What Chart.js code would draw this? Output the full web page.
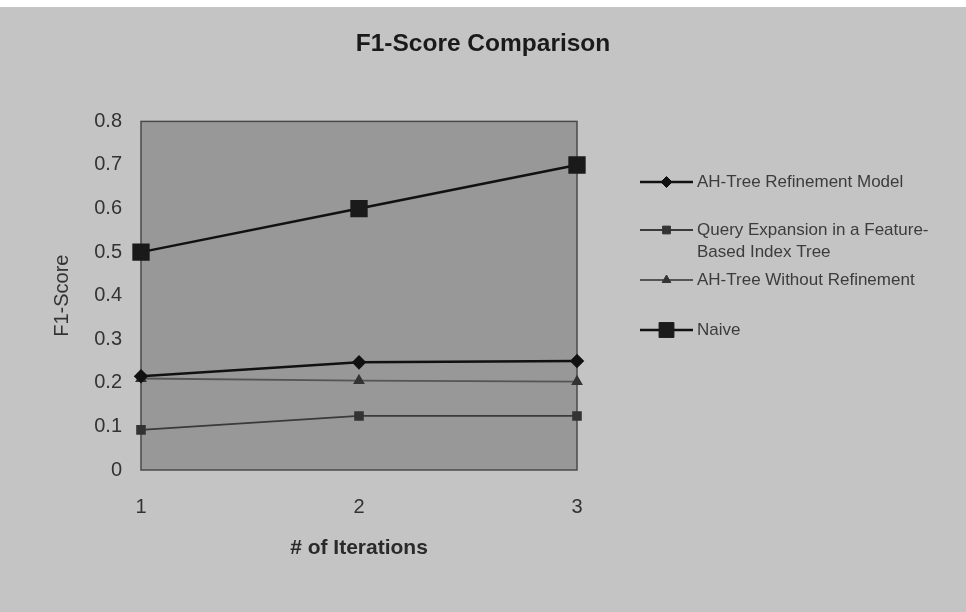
<!DOCTYPE html>
<html>
<head>
<meta charset="utf-8">
<script src="https://cdn.jsdelivr.net/npm/chart.js@4.4.1/dist/chart.umd.min.js"></script>
<style>
  html, body { margin: 0; padding: 0; background: #ffffff; }
  #wrap { width: 966px; height: 612px; }
</style>
</head>
<body>
<div id="wrap"><canvas id="chart" width="966" height="612"></canvas></div>
<script>
// Iterations on the x axis
const iterations = ['1', '2', '3'];

// F1-score per iteration for each method
const ahTreeRefinement = [0.215, 0.247, 0.25];
const queryExpansion   = [0.092, 0.124, 0.124];
const ahTreeWithout    = [0.21, 0.205, 0.203];
const naive            = [0.5, 0.6, 0.7];

// Legend text (wrapped lines per series)
const seriesNames = [
  ['AH-Tree Refinement Model'],
  ['Query Expansion in a Feature-', 'Based Index Tree'],
  ['AH-Tree Without Refinement'],
  ['Naive']
];

const yTicks = [0, 0.1, 0.2, 0.3, 0.4, 0.5, 0.6, 0.7, 0.8];

const FONT = '"Liberation Sans", Arial, sans-serif';

// Page and plot-area fills plus the frame around the plot
const backgroundPlugin = {
  id: 'panelBackground',
  beforeDraw(chart) {
    const { ctx, chartArea: a, width, height } = chart;
    ctx.save();
    ctx.fillStyle = '#c4c4c4';
    ctx.fillRect(0, 0, width, height);
    ctx.fillStyle = '#ffffff';
    ctx.fillRect(0, 0, width, 7);
    ctx.fillStyle = '#989898';
    ctx.fillRect(a.left, a.top, a.right - a.left, a.bottom - a.top);
    ctx.restore();
  },
  beforeDatasetsDraw(chart) {
    const { ctx, chartArea: a } = chart;
    ctx.save();
    ctx.strokeStyle = '#4a4a4a';
    ctx.lineWidth = 1.5;
    ctx.strokeRect(a.left, a.top, a.right - a.left, a.bottom - a.top);
    ctx.restore();
  }
};

// Legend on the right: line sample with marker, then the series name
const sideLegendPlugin = {
  id: 'sideLegend',
  afterDraw(chart) {
    const { ctx } = chart;
    const rows = [182, 230, 280, 330];
    const x0 = 640, x1 = 693, tx = 697;
    ctx.save();
    chart.data.datasets.forEach((ds, i) => {
      const y = rows[i];
      ctx.strokeStyle = ds.borderColor;
      ctx.lineWidth = ds.borderWidth;
      ctx.beginPath();
      ctx.moveTo(x0, y);
      ctx.lineTo(x1, y);
      ctx.stroke();
      ctx.fillStyle = ds.pointBackgroundColor;
      ctx.strokeStyle = ds.pointBorderColor;
      ctx.lineWidth = 1;
      Chart.helpers.drawPoint(ctx, {
        pointStyle: ds.pointStyle,
        radius: ds.pointRadius,
        rotation: 0,
        borderWidth: 1
      }, (x0 + x1) / 2, y);
      ctx.fillStyle = '#3c3c3c';
      ctx.font = '17px ' + FONT;
      ctx.textAlign = 'left';
      ctx.textBaseline = 'middle';
      seriesNames[i].forEach((line, k) => {
        ctx.fillText(line, tx, y + k * 22);
      });
    });
    ctx.restore();
  }
};

new Chart(document.getElementById('chart'), {
  type: 'line',
  data: {
    labels: iterations,
    datasets: [
      {
        label: seriesNames[0].join(' '),
        data: ahTreeRefinement,
        borderColor: '#111111',
        borderWidth: 2.5,
        pointStyle: 'rectRot',
        pointRadius: 5.5,
        pointBackgroundColor: '#111111',
        pointBorderColor: '#111111'
      },
      {
        label: seriesNames[1].join(' '),
        data: queryExpansion,
        borderColor: '#3a3a3a',
        borderWidth: 1.8,
        pointStyle: 'rect',
        pointRadius: 5.5,
        pointBackgroundColor: '#333333',
        pointBorderColor: '#333333'
      },
      {
        label: seriesNames[2].join(' '),
        data: ahTreeWithout,
        borderColor: '#555555',
        borderWidth: 1.8,
        pointStyle: 'triangle',
        pointRadius: 5,
        pointBackgroundColor: '#333333',
        pointBorderColor: '#333333'
      },
      {
        label: seriesNames[3].join(' '),
        data: naive,
        borderColor: '#111111',
        borderWidth: 2.5,
        pointStyle: 'rect',
        pointRadius: 10.5,
        pointBackgroundColor: '#1a1a1a',
        pointBorderColor: '#1a1a1a'
      }
    ]
  },
  options: {
    responsive: false,
    animation: false,
    layout: { padding: { left: 0, right: 0, top: 0, bottom: 0 } },
    plugins: {
      legend: { display: false },
      tooltip: { enabled: false },
      title: {
        display: true,
        text: 'F1-Score Comparison',
        color: '#1a1a1a',
        font: { family: FONT, size: 24.5, weight: 'bold' },
        padding: { top: 30, bottom: 62 }
      }
    },
    scales: {
      x: {
        type: 'category',
        offset: false,
        grid: { display: false, drawTicks: false },
        border: { display: false },
        ticks: {
          color: '#333333',
          font: { family: FONT, size: 20 },
          padding: 25,
          maxRotation: 0
        },
        title: {
          display: true,
          text: '# of Iterations',
          color: '#2a2a2a',
          font: { family: FONT, size: 21, weight: 'bold' },
          padding: { top: 0, bottom: 51 }
        },
        afterFit(scale) { scale.height = 142; }
      },
      y: {
        min: 0,
        max: 0.8,
        grid: { display: false, drawTicks: false },
        border: { display: false },
        afterBuildTicks(scale) { scale.ticks = yTicks.map(v => ({ value: v })); },
        ticks: {
          color: '#333333',
          font: { family: FONT, size: 20 },
          padding: 19,
          callback: v => String(Math.round(v * 10) / 10)
        },
        title: {
          display: true,
          text: 'F1-Score',
          color: '#333333',
          font: { family: FONT, size: 20 },
          padding: { top: 50, bottom: 0 }
        },
        afterFit(scale) { scale.width = 141; }
      },
      // empty right-hand band that holds the legend area
      legendBand: {
        position: 'right',
        min: 0,
        max: 1,
        grid: { display: false, drawTicks: false },
        border: { display: false },
        ticks: { display: false },
        afterFit(scale) { scale.width = 389; }
      }
    }
  },
  plugins: [backgroundPlugin, sideLegendPlugin]
});
</script>
</body>
</html>
